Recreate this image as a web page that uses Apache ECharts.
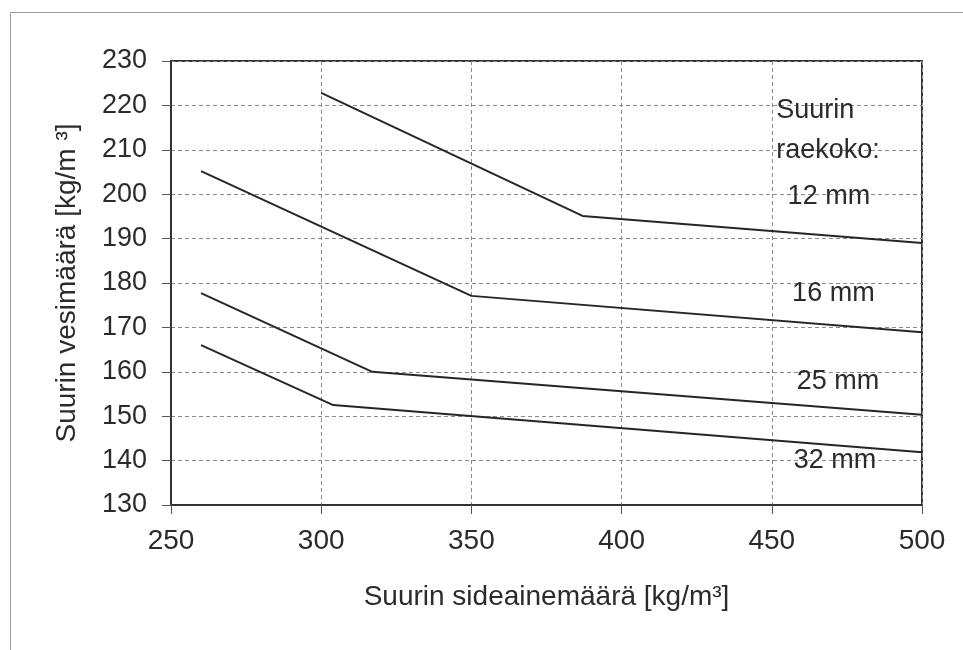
<!DOCTYPE html>
<html>
<head>
<meta charset="utf-8">
<script src="https://cdn.jsdelivr.net/npm/echarts@6/dist/echarts.min.js"></script>
<style>
  html, body { margin: 0; padding: 0; background: #fff; }
  #chart { width: 963px; height: 650px; }
</style>
</head>
<body>
<div id="chart"></div>
<script>
// Data
const xTicks = [250, 300, 350, 400, 450, 500];
const yTicks = [130, 140, 150, 160, 170, 180, 190, 200, 210, 220, 230];

const x12 = [300, 387, 500];
const y12 = [222.8, 195.1, 189.0];
const x16 = [260, 350, 500];
const y16 = [205.2, 177.1, 168.9];
const x25 = [260, 317, 500];
const y25 = [177.7, 160.0, 150.3];
const x32 = [260, 304, 500];
const y32 = [166.0, 152.5, 141.9];

const seriesNames = ['12 mm', '16 mm', '25 mm', '32 mm'];
const labelTexts = ['Suurin', 'raekoko:', '12 mm', '16 mm', '25 mm', '32 mm'];
const labelX = [451.5, 451.5, 469, 470.5, 472, 471];
const labelY = [218.8, 209.8, 199.4, 177.7, 157.7, 139.9];
const labelAlign = ['left', 'left', 'center', 'center', 'center', 'center'];

const xTitle = 'Suurin sideainemäärä [kg/m³]';
const yTitle = 'Suurin vesimäärä [kg/m ³]';

const FONT = '"Liberation Sans", Arial, sans-serif';
const TEXT = '#2b2b2b';

function pairs(xs, ys) { return xs.map((x, i) => [x, ys[i]]); }

const chart = echarts.init(document.getElementById('chart'), null, { renderer: 'canvas' });

const lineStyle = { color: '#262626', width: 2 };
const lineSeries = [[x12, y12], [x16, y16], [x25, y25], [x32, y32]].map((d, i) => ({
  name: seriesNames[i],
  type: 'line',
  data: pairs(d[0], d[1]),
  symbol: 'none',
  lineStyle: lineStyle,
  silent: true,
  z: 3
}));

const labelSeries = {
  type: 'scatter',
  symbolSize: 0,
  silent: true,
  z: 4,
  itemStyle: { color: TEXT, opacity: 1 },
  data: labelTexts.map((t, i) => ({
    value: [labelX[i], labelY[i]],
    label: {
      show: true,
      position: 'inside',
      formatter: t,
      align: labelAlign[i],
      verticalAlign: 'middle',
      fontFamily: FONT,
      fontSize: 27,
      color: TEXT,
      opacity: 1,
      textBorderWidth: 0,
      textBorderColor: 'transparent'
    }
  }))
};

chart.setOption({
  animation: false,
  backgroundColor: '#ffffff',
  grid: {
    left: 171, right: 41, top: 61, bottom: 145,
    show: true, borderColor: '#333', borderWidth: 2, backgroundColor: 'transparent'
  },
  xAxis: {
    type: 'value',
    min: 250, max: 500, interval: 50,
    name: xTitle,
    nameLocation: 'middle',
    nameGap: 78,
    nameTextStyle: { fontFamily: FONT, fontSize: 28, color: TEXT },
    axisLine: { show: true, lineStyle: { color: '#333', width: 2 } },
    axisTick: { show: true, inside: false, length: 9, lineStyle: { color: '#555', width: 1 } },
    axisLabel: { margin: 22, fontFamily: FONT, fontSize: 28, color: TEXT,
      formatter: v => (xTicks.indexOf(v) >= 0 ? String(v) : '') },
    splitLine: { show: true, lineStyle: { color: '#8a8a8a', width: 1, type: [4, 3] } }
  },
  yAxis: {
    type: 'value',
    min: 130, max: 230, interval: 10,
    name: yTitle,
    nameLocation: 'middle',
    nameRotate: 90,
    nameGap: 90,
    nameTextStyle: { fontFamily: FONT, fontSize: 28, color: TEXT },
    axisLine: { show: true, lineStyle: { color: '#333', width: 2 } },
    axisTick: { show: true, inside: false, length: 9, lineStyle: { color: '#555', width: 1 } },
    axisLabel: { margin: 24, fontFamily: FONT, fontSize: 27, color: TEXT,
      formatter: v => (yTicks.indexOf(v) >= 0 ? String(v) : '') },
    splitLine: { show: true, lineStyle: { color: '#8a8a8a', width: 1, type: [4, 3] } }
  },
  graphic: [
    { type: 'line', shape: { x1: 10.5, y1: 12.5, x2: 963, y2: 12.5 }, style: { stroke: '#9a9a9a', lineWidth: 1 }, silent: true },
    { type: 'line', shape: { x1: 10.5, y1: 12.5, x2: 10.5, y2: 650 }, style: { stroke: '#9a9a9a', lineWidth: 1 }, silent: true }
  ],
  series: lineSeries.concat([labelSeries])
});
</script>
</body>
</html>
